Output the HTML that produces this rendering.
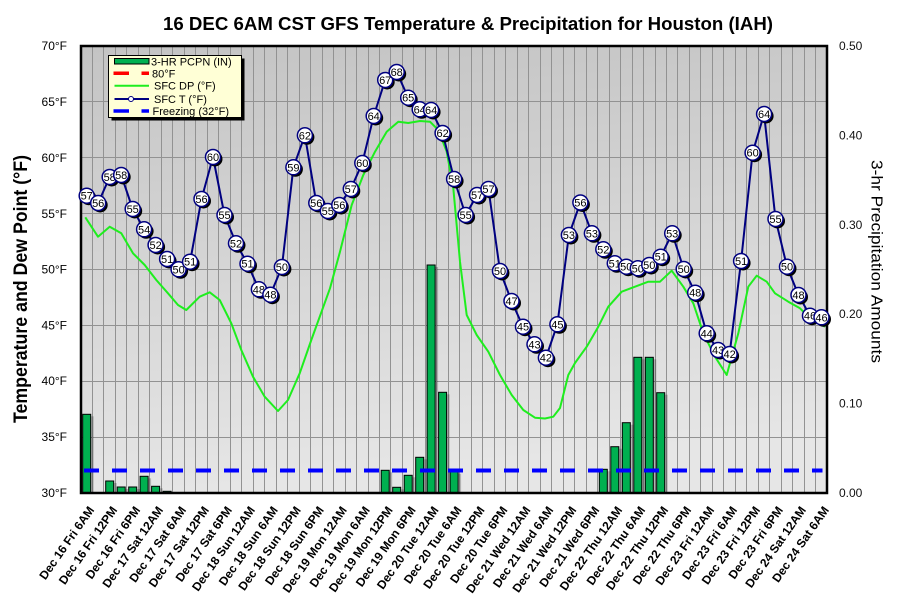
<!DOCTYPE html>
<html><head><meta charset="utf-8">
<style>
html,body{margin:0;padding:0;background:#fff;}
body{width:903px;height:613px;overflow:hidden;}
svg{display:block;font-family:"Liberation Sans",Arial,sans-serif;}
.m{font-size:11px;fill:#000;text-anchor:middle;}
.xl{font-size:12px;font-weight:bold;fill:#000;text-anchor:end;}
.yl{font-size:12px;fill:#000;text-anchor:end;}
.yr{font-size:12px;fill:#111;}
.lg{font-size:11px;fill:#000;}
</style></head>
<body>
<svg width="903" height="613" viewBox="0 0 903 613" xmlns="http://www.w3.org/2000/svg">
<defs>
<linearGradient id="bg" x1="0" y1="0" x2="0.15" y2="1">
<stop offset="0" stop-color="#c4c4c4"/>
<stop offset="1" stop-color="#e6e6e6"/>
</linearGradient>
<g id="mk"><circle cx="2" cy="2" r="7.5" fill="#000"/><circle cx="0" cy="0" r="7.5" fill="#fff" stroke="#000080" stroke-width="1.5"/></g>
</defs>

<text x="163" y="30" font-size="18" font-weight="bold" textLength="610" lengthAdjust="spacingAndGlyphs">16 DEC 6AM CST GFS Temperature &amp; Precipitation for Houston (IAH)</text>

<!-- plot background -->
<rect x="81" y="46" width="746" height="447" fill="url(#bg)"/>

<!-- grid -->
<path d="M92.5 46V493M103.5 46V493M115.5 46V493M126.5 46V493M138.5 46V493M149.5 46V493M161.5 46V493M172.5 46V493M184.5 46V493M195.5 46V493M207.5 46V493M218.5 46V493M230.5 46V493M241.5 46V493M253.5 46V493M264.5 46V493M276.5 46V493M287.5 46V493M299.5 46V493M310.5 46V493M322.5 46V493M333.5 46V493M345.5 46V493M356.5 46V493M368.5 46V493M379.5 46V493M390.5 46V493M402.5 46V493M413.5 46V493M425.5 46V493M436.5 46V493M448.5 46V493M459.5 46V493M471.5 46V493M482.5 46V493M494.5 46V493M505.5 46V493M517.5 46V493M528.5 46V493M540.5 46V493M551.5 46V493M563.5 46V493M574.5 46V493M586.5 46V493M597.5 46V493M609.5 46V493M620.5 46V493M632.5 46V493M643.5 46V493M655.5 46V493M666.5 46V493M677.5 46V493M689.5 46V493M700.5 46V493M712.5 46V493M723.5 46V493M735.5 46V493M746.5 46V493M758.5 46V493M769.5 46V493M781.5 46V493M792.5 46V493M804.5 46V493M815.5 46V493M81 101.5H827M81 157.5H827M81 213.5H827M81 269.5H827M81 325.5H827M81 381.5H827M81 437.5H827" stroke="#929292" stroke-width="1" fill="none"/>

<!-- bar shadows -->
<g fill="#000" fill-opacity="0.22">
<rect x="85.7" y="416.3" width="8" height="76.7"/>
<rect x="108.7" y="483" width="8" height="10"/>
<rect x="120.2" y="489" width="8" height="4"/>
<rect x="131.7" y="489" width="8" height="4"/>
<rect x="143.1" y="478.3" width="8" height="14.7"/>
<rect x="154.6" y="488.3" width="8" height="4.7"/>
<rect x="384.2" y="472.3" width="8" height="20.7"/>
<rect x="395.7" y="489.3" width="8" height="3.7"/>
<rect x="407.2" y="477.3" width="8" height="15.7"/>
<rect x="418.7" y="459.3" width="8" height="33.7"/>
<rect x="430.1" y="267" width="8" height="226"/>
<rect x="441.6" y="394.3" width="8" height="98.7"/>
<rect x="453.1" y="473.7" width="8" height="19.3"/>
<rect x="602.3" y="471.3" width="8" height="21.7"/>
<rect x="613.8" y="448.7" width="8" height="44.3"/>
<rect x="625.3" y="424.7" width="8" height="68.3"/>
<rect x="636.8" y="359.3" width="8" height="133.7"/>
<rect x="648.3" y="359.3" width="8" height="133.7"/>
<rect x="659.7" y="394.7" width="8" height="98.3"/>
</g>
<!-- bars -->
<g fill="#00b050" stroke="#000" stroke-width="1">
<rect x="82.7" y="414.3" width="8" height="78.7"/>
<rect x="105.7" y="481" width="8" height="12"/>
<rect x="117.2" y="487" width="8" height="6"/>
<rect x="128.7" y="487" width="8" height="6"/>
<rect x="140.1" y="476.3" width="8" height="16.7"/>
<rect x="151.6" y="486.3" width="8" height="6.7"/>
<rect x="163.1" y="491.3" width="8" height="1.7"/>
<rect x="381.2" y="470.3" width="8" height="22.7"/>
<rect x="392.7" y="487.3" width="8" height="5.7"/>
<rect x="404.2" y="475.3" width="8" height="17.7"/>
<rect x="415.7" y="457.3" width="8" height="35.7"/>
<rect x="427.1" y="265" width="8" height="228"/>
<rect x="438.6" y="392.3" width="8" height="100.7"/>
<rect x="450.1" y="471.7" width="8" height="21.3"/>
<rect x="599.3" y="469.3" width="8" height="23.7"/>
<rect x="610.8" y="446.7" width="8" height="46.3"/>
<rect x="622.3" y="422.7" width="8" height="70.3"/>
<rect x="633.8" y="357.3" width="8" height="135.7"/>
<rect x="645.3" y="357.3" width="8" height="135.7"/>
<rect x="656.7" y="392.7" width="8" height="100.3"/>
</g>

<!-- freezing line -->
<line x1="84" y1="470.5" x2="822.5" y2="470.5" stroke="#0000ff" stroke-width="4" stroke-dasharray="15 13"/>

<!-- dew point -->
<polyline fill="none" stroke="#1eee1e" stroke-width="2" stroke-linejoin="round" points="85.3,217.3 98,236.7 109.7,226.7 121.3,233.3 133,253.3 144.7,265 156.3,280 168,293.3 178,305 186.3,310 199.7,296.7 209.7,292.3 219.7,300 231.3,323.3 241.3,350 253,376.7 264.7,396.7 278,411 288,400 299.7,373.3 311.3,340 320,316 330,288.3 340,251.7 351.7,205 363.3,175 375,151.7 386.7,131.7 398.3,121.7 408.3,123 420,121 430,121.7 438.3,130 446.7,151.7 453.3,188 460,261.7 466.7,315 476.7,335 488.3,351.7 500,375 511.7,395 523.3,410 535,417.7 545,418.5 553.3,416.7 560,408 568.3,375 575,363 586.7,346.7 598.3,326.7 608.3,306.7 621.7,291.7 633.3,287.3 648.3,281.7 660,281.7 671.7,270.7 683.3,286.7 693.3,303.3 703.3,333.3 715,356.7 726.7,375 738.3,333.3 748.3,286.7 756.7,275.7 766.7,281.7 775,293.3 788.3,301.7 800,308.3 811.7,320 825,326.7"/>

<!-- temperature line -->
<polyline fill="none" stroke="#000080" stroke-width="2" stroke-linejoin="round" points="86.7,195.7 98.2,203 109.7,177 121.2,175 132.7,209 144.1,229.3 155.6,245 167.1,259 178.6,269.3 190.1,261.7 201.5,199 213,157 224.5,215 236,243.3 247.5,263.7 258.9,289.3 270.4,294.7 281.9,267 293.4,167.3 304.9,135.3 316.3,203 327.8,211 339.3,205 350.8,189 362.3,163 373.7,116 385.2,80 396.7,72 408.2,97.7 419.7,109.3 431.1,110 442.6,133 454.1,179 465.6,215 477.1,195 488.5,189 500,271 511.5,301 523,326.7 534.5,344.3 545.9,357.7 557.4,324.3 568.9,235 580.4,202.5 591.9,233.3 603.3,249.3 614.8,263.3 626.3,266.7 637.8,268.3 649.3,265 660.7,256.7 672.2,233.3 683.7,269 695.2,292.7 706.7,333.3 718.1,350 729.6,354 741.1,261 752.6,152.7 764.1,114 775.5,219 787,266.7 798.5,295 810,315.7 821.5,317.3"/>

<!-- plot border -->
<rect x="81" y="46" width="746" height="447" fill="none" stroke="#000" stroke-width="2.5"/>

<!-- markers -->
<use href="#mk" x="86.7" y="195.7"/><text class="m" x="86.7" y="199.7">57</text>
<use href="#mk" x="98.2" y="203"/><text class="m" x="98.2" y="207">56</text>
<use href="#mk" x="109.7" y="177"/><text class="m" x="109.7" y="181">58</text>
<use href="#mk" x="121.2" y="175"/><text class="m" x="121.2" y="179">58</text>
<use href="#mk" x="132.7" y="209"/><text class="m" x="132.7" y="213">55</text>
<use href="#mk" x="144.1" y="229.3"/><text class="m" x="144.1" y="233.3">54</text>
<use href="#mk" x="155.6" y="245"/><text class="m" x="155.6" y="249">52</text>
<use href="#mk" x="167.1" y="259"/><text class="m" x="167.1" y="263">51</text>
<use href="#mk" x="178.6" y="269.3"/><text class="m" x="178.6" y="273.3">50</text>
<use href="#mk" x="190.1" y="261.7"/><text class="m" x="190.1" y="265.7">51</text>
<use href="#mk" x="201.5" y="199"/><text class="m" x="201.5" y="203">56</text>
<use href="#mk" x="213" y="157"/><text class="m" x="213" y="161">60</text>
<use href="#mk" x="224.5" y="215"/><text class="m" x="224.5" y="219">55</text>
<use href="#mk" x="236" y="243.3"/><text class="m" x="236" y="247.3">52</text>
<use href="#mk" x="247.5" y="263.7"/><text class="m" x="247.5" y="267.7">51</text>
<use href="#mk" x="258.9" y="289.3"/><text class="m" x="258.9" y="293.3">48</text>
<use href="#mk" x="270.4" y="294.7"/><text class="m" x="270.4" y="298.7">48</text>
<use href="#mk" x="281.9" y="267"/><text class="m" x="281.9" y="271">50</text>
<use href="#mk" x="293.4" y="167.3"/><text class="m" x="293.4" y="171.3">59</text>
<use href="#mk" x="304.9" y="135.3"/><text class="m" x="304.9" y="139.3">62</text>
<use href="#mk" x="316.3" y="203"/><text class="m" x="316.3" y="207">56</text>
<use href="#mk" x="327.8" y="211"/><text class="m" x="327.8" y="215">55</text>
<use href="#mk" x="339.3" y="205"/><text class="m" x="339.3" y="209">56</text>
<use href="#mk" x="350.8" y="189"/><text class="m" x="350.8" y="193">57</text>
<use href="#mk" x="362.3" y="163"/><text class="m" x="362.3" y="167">60</text>
<use href="#mk" x="373.7" y="116"/><text class="m" x="373.7" y="120">64</text>
<use href="#mk" x="385.2" y="80"/><text class="m" x="385.2" y="84">67</text>
<use href="#mk" x="396.7" y="72"/><text class="m" x="396.7" y="76">68</text>
<use href="#mk" x="408.2" y="97.7"/><text class="m" x="408.2" y="101.7">65</text>
<use href="#mk" x="419.7" y="109.3"/><text class="m" x="419.7" y="113.3">64</text>
<use href="#mk" x="431.1" y="110"/><text class="m" x="431.1" y="114">64</text>
<use href="#mk" x="442.6" y="133"/><text class="m" x="442.6" y="137">62</text>
<use href="#mk" x="454.1" y="179"/><text class="m" x="454.1" y="183">58</text>
<use href="#mk" x="465.6" y="215"/><text class="m" x="465.6" y="219">55</text>
<use href="#mk" x="477.1" y="195"/><text class="m" x="477.1" y="199">57</text>
<use href="#mk" x="488.5" y="189"/><text class="m" x="488.5" y="193">57</text>
<use href="#mk" x="500" y="271"/><text class="m" x="500" y="275">50</text>
<use href="#mk" x="511.5" y="301"/><text class="m" x="511.5" y="305">47</text>
<use href="#mk" x="523" y="326.7"/><text class="m" x="523" y="330.7">45</text>
<use href="#mk" x="534.5" y="344.3"/><text class="m" x="534.5" y="348.3">43</text>
<use href="#mk" x="545.9" y="357.7"/><text class="m" x="545.9" y="361.7">42</text>
<use href="#mk" x="557.4" y="324.3"/><text class="m" x="557.4" y="328.3">45</text>
<use href="#mk" x="568.9" y="235"/><text class="m" x="568.9" y="239">53</text>
<use href="#mk" x="580.4" y="202.5"/><text class="m" x="580.4" y="206.5">56</text>
<use href="#mk" x="591.9" y="233.3"/><text class="m" x="591.9" y="237.3">53</text>
<use href="#mk" x="603.3" y="249.3"/><text class="m" x="603.3" y="253.3">52</text>
<use href="#mk" x="614.8" y="263.3"/><text class="m" x="614.8" y="267.3">51</text>
<use href="#mk" x="626.3" y="266.7"/><text class="m" x="626.3" y="270.7">50</text>
<use href="#mk" x="637.8" y="268.3"/><text class="m" x="637.8" y="272.3">50</text>
<use href="#mk" x="649.3" y="265"/><text class="m" x="649.3" y="269">50</text>
<use href="#mk" x="660.7" y="256.7"/><text class="m" x="660.7" y="260.7">51</text>
<use href="#mk" x="672.2" y="233.3"/><text class="m" x="672.2" y="237.3">53</text>
<use href="#mk" x="683.7" y="269"/><text class="m" x="683.7" y="273">50</text>
<use href="#mk" x="695.2" y="292.7"/><text class="m" x="695.2" y="296.7">48</text>
<use href="#mk" x="706.7" y="333.3"/><text class="m" x="706.7" y="337.3">44</text>
<use href="#mk" x="718.1" y="350"/><text class="m" x="718.1" y="354">43</text>
<use href="#mk" x="729.6" y="354"/><text class="m" x="729.6" y="358">42</text>
<use href="#mk" x="741.1" y="261"/><text class="m" x="741.1" y="265">51</text>
<use href="#mk" x="752.6" y="152.7"/><text class="m" x="752.6" y="156.7">60</text>
<use href="#mk" x="764.1" y="114"/><text class="m" x="764.1" y="118">64</text>
<use href="#mk" x="775.5" y="219"/><text class="m" x="775.5" y="223">55</text>
<use href="#mk" x="787" y="266.7"/><text class="m" x="787" y="270.7">50</text>
<use href="#mk" x="798.5" y="295"/><text class="m" x="798.5" y="299">48</text>
<use href="#mk" x="810" y="315.7"/><text class="m" x="810" y="319.7">46</text>
<use href="#mk" x="821.5" y="317.3"/><text class="m" x="821.5" y="321.3">46</text>

<!-- left axis labels -->
<text class="yl" x="67" y="50">70°F</text>
<text class="yl" x="67" y="106">65°F</text>
<text class="yl" x="67" y="162">60°F</text>
<text class="yl" x="67" y="218">55°F</text>
<text class="yl" x="67" y="273.5">50°F</text>
<text class="yl" x="67" y="329.5">45°F</text>
<text class="yl" x="67" y="385">40°F</text>
<text class="yl" x="67" y="441">35°F</text>
<text class="yl" x="67" y="497">30°F</text>

<!-- right axis labels -->
<text class="yr" x="839" y="50">0.50</text>
<text class="yr" x="839" y="139.4">0.40</text>
<text class="yr" x="839" y="228.8">0.30</text>
<text class="yr" x="839" y="318.2">0.20</text>
<text class="yr" x="839" y="407.6">0.10</text>
<text class="yr" x="839" y="497">0.00</text>

<!-- axis titles -->
<text transform="translate(27,289) rotate(-90)" text-anchor="middle" font-size="19" font-weight="bold" textLength="268" lengthAdjust="spacingAndGlyphs">Temperature and Dew Point (°F)</text>
<text transform="translate(871.5,261.5) rotate(90)" text-anchor="middle" font-size="16" textLength="203" lengthAdjust="spacingAndGlyphs">3-hr Precipitation Amounts</text>

<!-- x labels -->
<text class="xl" transform="translate(94.7,510) rotate(-55)">Dec 16 Fri 6AM</text>
<text class="xl" transform="translate(117.7,510) rotate(-55)">Dec 16 Fri 12PM</text>
<text class="xl" transform="translate(140.7,510) rotate(-55)">Dec 16 Fri 6PM</text>
<text class="xl" transform="translate(163.6,510) rotate(-55)">Dec 17 Sat 12AM</text>
<text class="xl" transform="translate(186.6,510) rotate(-55)">Dec 17 Sat 6AM</text>
<text class="xl" transform="translate(209.5,510) rotate(-55)">Dec 17 Sat 12PM</text>
<text class="xl" transform="translate(232.5,510) rotate(-55)">Dec 17 Sat 6PM</text>
<text class="xl" transform="translate(255.5,510) rotate(-55)">Dec 18 Sun 12AM</text>
<text class="xl" transform="translate(278.4,510) rotate(-55)">Dec 18 Sun 6AM</text>
<text class="xl" transform="translate(301.4,510) rotate(-55)">Dec 18 Sun 12PM</text>
<text class="xl" transform="translate(324.3,510) rotate(-55)">Dec 18 Sun 6PM</text>
<text class="xl" transform="translate(347.3,510) rotate(-55)">Dec 19 Mon 12AM</text>
<text class="xl" transform="translate(370.3,510) rotate(-55)">Dec 19 Mon 6AM</text>
<text class="xl" transform="translate(393.2,510) rotate(-55)">Dec 19 Mon 12PM</text>
<text class="xl" transform="translate(416.2,510) rotate(-55)">Dec 19 Mon 6PM</text>
<text class="xl" transform="translate(439.1,510) rotate(-55)">Dec 20 Tue 12AM</text>
<text class="xl" transform="translate(462.1,510) rotate(-55)">Dec 20 Tue 6AM</text>
<text class="xl" transform="translate(485.1,510) rotate(-55)">Dec 20 Tue 12PM</text>
<text class="xl" transform="translate(508,510) rotate(-55)">Dec 20 Tue 6PM</text>
<text class="xl" transform="translate(531,510) rotate(-55)">Dec 21 Wed 12AM</text>
<text class="xl" transform="translate(553.9,510) rotate(-55)">Dec 21 Wed 6AM</text>
<text class="xl" transform="translate(576.9,510) rotate(-55)">Dec 21 Wed 12PM</text>
<text class="xl" transform="translate(599.9,510) rotate(-55)">Dec 21 Wed 6PM</text>
<text class="xl" transform="translate(622.8,510) rotate(-55)">Dec 22 Thu 12AM</text>
<text class="xl" transform="translate(645.8,510) rotate(-55)">Dec 22 Thu 6AM</text>
<text class="xl" transform="translate(668.7,510) rotate(-55)">Dec 22 Thu 12PM</text>
<text class="xl" transform="translate(691.7,510) rotate(-55)">Dec 22 Thu 6PM</text>
<text class="xl" transform="translate(714.7,510) rotate(-55)">Dec 23 Fri 12AM</text>
<text class="xl" transform="translate(737.6,510) rotate(-55)">Dec 23 Fri 6AM</text>
<text class="xl" transform="translate(760.6,510) rotate(-55)">Dec 23 Fri 12PM</text>
<text class="xl" transform="translate(783.5,510) rotate(-55)">Dec 23 Fri 6PM</text>
<text class="xl" transform="translate(806.5,510) rotate(-55)">Dec 24 Sat 12AM</text>
<text class="xl" transform="translate(829.5,510) rotate(-55)">Dec 24 Sat 6AM</text>

<!-- legend -->
<rect x="111.5" y="58.5" width="133" height="62" fill="#000"/>
<rect x="108.5" y="55.5" width="133" height="62" fill="#ffffd6" stroke="#000" stroke-width="1"/>
<rect x="114.5" y="58.5" width="34.5" height="5.5" fill="#00b050" stroke="#000" stroke-width="1"/>
<text class="lg" x="151" y="65.7">3-HR PCPN  (IN)</text>
<path d="M113.5 73.3H129M141.5 73.3H149" stroke="#ff0000" stroke-width="3.5"/>
<text class="lg" x="152" y="77.3">80°F</text>
<path d="M114.5 85.7H149" stroke="#1eee1e" stroke-width="2"/>
<text class="lg" x="154" y="89.7">SFC DP (°F)</text>
<path d="M114.5 99H149" stroke="#000080" stroke-width="2"/>
<circle cx="131" cy="99" r="2.5" fill="#fff" stroke="#000080" stroke-width="1"/>
<text class="lg" x="154" y="103">SFC T (°F)</text>
<path d="M113.5 111H129M141.5 111H149" stroke="#0000ff" stroke-width="3.5"/>
<text class="lg" x="152.5" y="115">Freezing (32°F)</text>
</svg>
</body></html>
